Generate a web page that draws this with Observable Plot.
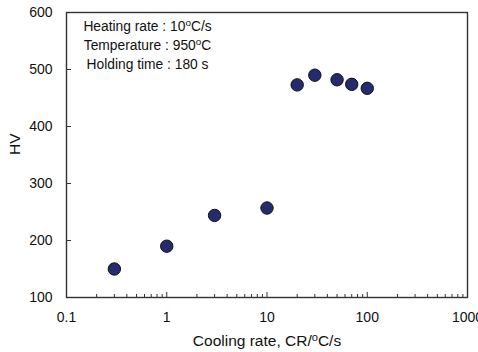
<!DOCTYPE html>
<html>
<head>
<meta charset="utf-8">
<script src="https://cdn.jsdelivr.net/npm/d3@7"></script>
<script src="https://cdn.jsdelivr.net/npm/@observablehq/plot@0.6"></script>
<style>
  html, body { margin: 0; padding: 0; background: #fff; }
  #chart svg { display: block; }
</style>
</head>
<body>
<div id="chart"></div>
<script>
// Hardness (HV) against cooling rate after austenitizing
const coolingRate = [0.3, 1, 3, 10, 20, 30, 50, 70, 100];
const hardness    = [150, 190, 244, 257, 473, 490, 482, 474, 467];

const xMajorTicks = [0.1, 1, 10, 100, 1000];
const xMinorTicks = [0.1, 1, 10, 100].flatMap(d => [2, 3, 4, 5, 6, 7, 8, 9].map(m => d * m));
const yTicks = [100, 200, 300, 400, 500, 600];
const yInnerTicks = [200, 300, 400, 500];

const conditions = [
  "Heating rate : 10°C/s",
  "Temperature : 950°C",
  "Holding time : 180 s"
];
const xLabel = "Cooling rate, CR/°C/s";
const yLabel = "HV";

const points = coolingRate.map((cr, i) => ({cr, hv: hardness[i]}));

const W = 478, H = 352;
const mL = 66, mR = 11, mT = 12, mB = 55;
const innerW = W - mL - mR, innerH = H - mT - mB;

const chart = Plot.plot({
  width: W,
  height: H,
  marginLeft: mL,
  marginRight: mR,
  marginTop: mT,
  marginBottom: mB,
  style: {fontFamily: "Arial, 'Liberation Sans', sans-serif", fontSize: "14px", color: "#111", background: "#fff"},
  x: {type: "log", domain: [0.1, 1000]},
  y: {domain: [100, 600]},
  marks: [
    // inward tick marks along the bottom and left edges
    Plot.tickX(xMinorTicks, {x: d => d, insetTop: innerH - 3, stroke: "#333", strokeWidth: 1}),
    Plot.tickX(xMajorTicks, {x: d => d, insetTop: innerH - 5, stroke: "#333", strokeWidth: 1}),
    Plot.tickY(yInnerTicks, {y: d => d, insetRight: innerW - 5, stroke: "#333", strokeWidth: 1}),
    Plot.frame({stroke: "#333", strokeWidth: 1.4}),
    Plot.axisX(xMajorTicks, {tickSize: 0, tickPadding: 15, tickFormat: d => String(d), fontSize: 14, label: null}),
    Plot.axisY(yTicks, {tickSize: 0, tickPadding: 14, fontSize: 14, label: null}),
    // axis titles
    Plot.text([xLabel], {frameAnchor: "bottom", dy: 48, fontSize: 15.5, lineAnchor: "bottom", fill: "#111"}),
    Plot.text([yLabel], {frameAnchor: "left", dx: -51, rotate: -90, fontSize: 15.5, fill: "#111"}),
    // processing conditions
    Plot.text([conditions.join("\n")], {
      frameAnchor: "top-left", dx: 81, dy: 5, textAnchor: "middle", lineAnchor: "top",
      lineHeight: 1.37, fontSize: 13.8, fill: "#111"
    }),
    Plot.dot(points, {x: "cr", y: "hv", r: 6.2, fill: "#262a6e", stroke: "#111", strokeWidth: 1})
  ]
});

// render the degree signs as raised small "o"
function superscriptDegrees(root) {
  const walker = document.createTreeWalker(root, NodeFilter.SHOW_TEXT);
  const nodes = [];
  while (walker.nextNode()) if (walker.currentNode.nodeValue.includes("°")) nodes.push(walker.currentNode);
  const ns = "http://www.w3.org/2000/svg";
  for (const node of nodes) {
    const parts = node.nodeValue.split("°");
    const frag = document.createDocumentFragment();
    parts.forEach((part, i) => {
      if (i === 0) { frag.appendChild(document.createTextNode(part)); return; }
      const sup = document.createElementNS(ns, "tspan");
      sup.setAttribute("font-size", "72%");
      sup.setAttribute("dy", "-5");
      sup.textContent = "o";
      const rest = document.createElementNS(ns, "tspan");
      rest.setAttribute("dy", "5");
      rest.textContent = part;
      frag.appendChild(sup);
      frag.appendChild(rest);
    });
    node.parentNode.replaceChild(frag, node);
  }
}
superscriptDegrees(chart);

document.getElementById("chart").appendChild(chart);
</script>
</body>
</html>
